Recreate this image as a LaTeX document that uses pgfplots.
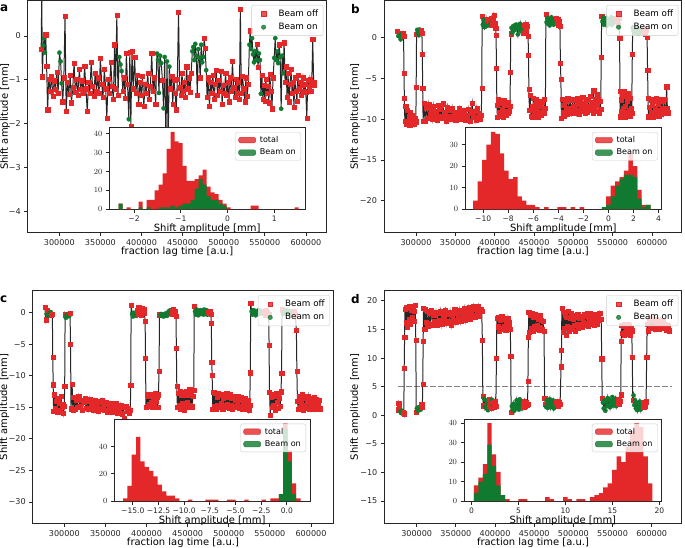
\documentclass[border=0pt]{standalone}
\usepackage{fontspec}
\setmainfont{DejaVu Sans}
\usepackage{pgfplots}
\pgfplotsset{compat=1.18}
\definecolor{mred}{RGB}{228,40,42}
\definecolor{mgreen}{RGB}{16,122,48}
\definecolor{axgray}{RGB}{38,38,38}
\pgfplotsset{
 common/.style={
  scale only axis, anchor=south west,
  axis line style={axgray, line width=0.8bp},
  tick align=outside, tick pos=left,
  major tick length=3.5bp,
  every tick/.style={axgray, line width=0.8bp},
  legend cell align=left,
 },
 mainax/.style={common,
  tick label style={font=\fontsize{8.1}{9.6}\selectfont, text=axgray},
  label style={font=\fontsize{8.8}{10}\selectfont, text=axgray},
  every axis x label/.style={at={(axis description cs:0.5,0)}, anchor=center, yshift=-19bp},
  xtick={300,350,400,450,500,550,600},
  xticklabels={300000,350000,400000,450000,500000,550000,600000},
  xlabel={fraction lag time [a.u.]},
  ylabel={Shift amplitude [mm]},
  legend style={at={(1,1)}, anchor=north east, xshift=-3.4bp, yshift=-4.4bp, draw=black!20, rounded corners=2bp, fill=white, fill opacity=0.8, text opacity=1, font=\fontsize{8.8}{10}\selectfont, inner xsep=3bp, inner ysep=2.5bp, row sep=1.5bp},
  scatter/classes={o={mark=square*, mred, mark size=2.1bp, line width=0.3bp}, g={mark=*, mgreen, mark size=2.2bp, line width=0.2bp}},
 },
 ylab/.style={every axis y label/.style={at={(axis description cs:#1,0.5)}, rotate=90, anchor=center}},
 inax/.style={common,
  axis background/.style={fill=white},
  tick label style={font=\fontsize{7.6}{9}\selectfont, text=axgray},
  label style={font=\fontsize{8.1}{9.6}\selectfont, text=axgray},
  every axis x label/.style={at={(axis description cs:0.5,0)}, anchor=center, yshift=-19.5bp},
  xlabel={Shift amplitude [mm]},
  ymin=0,
  legend style={at={(1,1)}, anchor=north east, xshift=-4bp, yshift=-4.4bp, draw=black!20, rounded corners=2bp, fill=white, fill opacity=0.8, text opacity=1, font=\fontsize{8.1}{9.6}\selectfont, inner xsep=3bp, inner ysep=2bp, row sep=1bp},
 },
 serie/.style={black!85, line width=1bp, scatter, scatter src=explicit symbolic, forget plot},
 offleg/.style={only marks, mark=square*, mred, mark size=2.1bp, legend image code/.code={\pgfpathmoveto{\pgfqpoint{0bp}{0bp}}\pgfpathmoveto{\pgfqpoint{22bp}{0bp}}\pgfusepath{discard}\draw[##1] plot coordinates {(9bp,0bp)};}},
 onleg/.style={only marks, mark=*, mgreen, mark size=2.2bp, legend image code/.code={\pgfpathmoveto{\pgfqpoint{0bp}{0bp}}\pgfpathmoveto{\pgfqpoint{22bp}{0bp}}\pgfusepath{discard}\draw[##1] plot coordinates {(9bp,0bp)};}},
 redpatch/.style={legend image code/.code={\fill[mred] (0bp,-2.8bp) rectangle (17bp,2.8bp); \path (19bp,0bp);}},
 greenpatch/.style={legend image code/.code={\fill[mgreen] (0bp,-2.8bp) rectangle (17bp,2.8bp); \path (19bp,0bp);}},
}
\begin{document}
\begin{tikzpicture}
\path[use as bounding box] (0,0) rectangle (685bp,548bp);
% ---------------- panel a ----------------
\begin{axis}[mainax, ylab=-0.0759, at={(27.7bp,315.3bp)}, width=299bp, height=232.2bp,
  xmin=261.6, xmax=625.2, ymin=-4.49, ymax=0.81,
  ytick={-4,-3,-2,-1,0}, yticklabels={−4,−3,−2,−1,0}]
\addlegendimage{offleg}\addlegendentry{Beam off}
\addlegendimage{onleg}\addlegendentry{Beam on}
\addplot[serie] coordinates {
(278.0,-0.30)[o] (278.7,1.00)[o] (279.4,-0.93)[o] (280.6,-0.22)[g] (281.6,-0.05)[g] (282.5,-0.38)[g] (283.5,0.03)[o] (284.6,-0.68)[o] (285.8,-1.68)[o] (287.3,-0.98)[o]
(289.0,-1.25)[o] (290.6,-0.92)[o] (292.2,-1.38)[o] (293.8,-1.02)[o] (295.4,-1.22)[o] (297.0,-0.82)[o] (298.6,-1.30)[o] (300.2,-0.38)[g] (301.6,-0.58)[g] (302.8,-1.08)[g]
(304.2,-1.50)[o] (305.6,-0.95)[o] (307.0,0.46)[o] (308.4,-1.72)[o] (310.0,-1.05)[o] (311.6,-1.32)[o] (313.2,-0.90)[o] (314.8,-1.52)[o] (316.4,-1.18)[o] (318.0,-0.62)[o]
(319.6,-1.28)[o] (321.2,-0.98)[o] (322.8,-1.35)[o] (324.4,-0.75)[o] (326.0,-1.22)[o] (327.6,-1.02)[o] (329.2,-1.30)[o] (330.8,-0.68)[o] (332.4,-1.20)[o] (334.0,-1.72)[o]
(335.6,-1.05)[o] (337.2,-1.30)[o] (338.8,-0.60)[o] (340.4,-1.15)[o] (342.0,-1.38)[o] (343.6,-0.85)[o] (345.2,-1.25)[o] (346.8,-0.95)[o] (348.4,-1.30)[o] (350.0,-0.50)[o]
(351.6,-1.10)[o] (353.2,-1.40)[o] (354.8,-0.75)[o] (356.4,-1.20)[o] (357.8,-1.88)[o] (359.4,-0.98)[o] (361.0,-1.30)[o] (362.6,-0.60)[o] (364.2,-1.15)[o] (365.8,-1.45)[o]
(367.2,-0.20)[o] (368.4,-1.20)[o] (370.0,0.47)[o] (371.4,-1.35)[o] (373.0,-0.48)[g] (374.4,-0.65)[g] (375.8,-0.80)[g] (377.2,-1.25)[o] (378.8,-0.95)[o] (380.2,-1.42)[o]
(381.6,-0.40)[o] (383.0,-1.10)[o] (384.6,-1.90)[g] (385.8,-0.36)[o] (387.0,-2.06)[o] (388.4,-0.35)[o] (390.0,-1.20)[o] (391.6,-0.48)[o] (393.2,-1.30)[o] (394.8,-0.90)[o]
(396.4,-1.55)[o] (398.0,-1.05)[o] (399.6,-1.35)[o] (401.2,-0.92)[o] (402.8,-1.60)[o] (404.4,-1.10)[o] (406.0,-1.30)[o] (407.6,-0.85)[o] (409.2,-1.45)[o] (410.8,-1.15)[o]
(412.4,-0.40)[o] (414.0,-1.25)[o] (415.6,-0.95)[o] (417.2,-1.55)[o] (418.8,-0.40)[g] (420.0,-0.55)[g] (421.2,-1.30)[g] (422.6,-0.45)[g] (424.0,-0.62)[g] (425.4,-1.00)[o]
(426.8,-1.65)[g] (428.2,-0.48)[g] (429.6,-2.40)[o] (431.0,-0.58)[g] (432.4,-2.40)[o] (433.8,-0.70)[g] (435.2,-1.20)[o] (436.6,-0.92)[o] (438.0,-1.55)[o] (439.4,-1.00)[o]
(440.8,-1.30)[o] (442.2,-1.68)[o] (443.6,-0.98)[o] (445.0,0.55)[o] (446.4,-1.18)[o] (447.8,-1.35)[o] (449.2,-0.85)[o] (450.6,-1.25)[o] (452.0,-1.05)[o] (453.4,-1.40)[o]
(454.8,-0.70)[o] (456.2,-1.20)[o] (457.6,-0.95)[o] (459.0,-1.28)[o] (460.4,-0.85)[o] (461.8,-0.35)[g] (463.0,-0.25)[g] (464.2,-0.55)[g] (465.4,-0.18)[g] (466.6,-0.45)[g]
(467.8,-1.35)[o] (469.0,-0.30)[g] (470.2,-0.50)[g] (471.4,-0.95)[o] (472.6,-0.20)[g] (473.8,-0.60)[g] (475.0,-0.48)[g] (476.2,-0.05)[o] (477.4,-0.28)[o] (478.6,-0.78)[g]
(479.8,-1.40)[o] (481.2,-0.95)[o] (482.6,-1.60)[o] (484.0,-1.05)[o] (485.4,-1.30)[o] (486.8,-0.90)[o] (488.2,-1.45)[o] (489.6,-1.10)[o] (491.0,-0.78)[o] (492.4,-1.35)[o]
(493.8,-1.00)[o] (495.2,-1.25)[o] (496.6,-0.80)[o] (498.0,-1.55)[o] (499.4,-1.12)[o] (500.8,-1.30)[o] (502.2,-0.85)[o] (503.6,-1.35)[o] (505.0,-1.05)[o] (506.4,-1.50)[o]
(507.8,-0.95)[o] (509.2,-1.25)[o] (510.6,-0.58)[o] (512.0,-1.18)[o] (513.4,-1.40)[o] (514.8,-0.98)[o] (516.2,-1.30)[o] (517.6,-1.05)[o] (519.0,-1.45)[o] (520.2,0.62)[o]
(521.4,-1.30)[o] (522.8,-0.92)[o] (524.2,-1.20)[o] (525.6,-1.50)[o] (527.0,-0.95)[o] (528.4,-1.38)[o] (529.8,-1.10)[o] (531.2,-0.20)[g] (532.2,0.12)[o] (533.2,-0.30)[g]
(534.4,-0.05)[g] (535.6,-0.42)[g] (536.8,-0.60)[g] (538.0,-0.35)[g] (539.2,-0.55)[g] (540.4,-0.18)[o] (541.6,-0.72)[o] (542.8,-0.40)[g] (544.0,-0.55)[g] (545.2,-1.32)[g]
(546.4,-0.90)[o] (547.6,-1.45)[o] (548.8,-1.12)[o] (550.0,-1.48)[o] (551.2,-0.98)[o] (552.4,-1.30)[o] (553.6,-1.15)[o] (554.8,-1.52)[o] (556.0,-0.88)[o] (557.2,-1.25)[o]
(558.6,-1.66)[o] (560.0,-0.95)[o] (561.4,-0.50)[g] (562.6,-0.05)[g] (563.8,-0.55)[g] (565.0,-0.35)[g] (566.2,-0.62)[g] (567.4,-0.20)[o] (568.6,-0.48)[g] (569.8,-1.66)[g]
(571.0,-0.45)[g] (572.2,-0.85)[g] (573.4,-0.15)[o] (574.6,-1.05)[o] (575.8,-0.70)[o] (577.0,-1.40)[o] (578.2,-0.85)[o] (579.4,-1.50)[o] (580.6,-1.10)[o] (581.8,-0.75)[o]
(583.0,-1.30)[o] (584.2,-1.05)[o] (585.4,-1.62)[o] (586.6,-0.95)[o] (587.8,-1.25)[o] (589.0,-1.48)[o] (590.2,-0.90)[o] (591.4,-1.20)[o] (592.6,-1.05)[o] (593.8,-1.35)[o]
(595.0,-1.12)[o] (596.2,-0.95)[o] (597.4,-1.25)[o] (598.6,-1.10)[o] (599.8,-1.28)[o] (601.0,-1.88)[o] (602.2,-1.00)[o] (603.4,-1.15)[o] (604.6,-0.98)[o] (605.8,-1.25)[o]
(607.0,-1.10)[o] (608.2,-0.07)[o] (609.4,-1.12)[o] (610.4,-1.05)[o]
};
\end{axis}
\begin{axis}[inax, at={(109.3bp,338.7bp)}, width=195.7bp, height=81.6bp,
  xmin=-2.53, xmax=1.66, ymax=43.2,
  xtick={-2,-1,0,1}, xticklabels={−2,−1,0,1}, ytick={0,10,20,30,40}]
\addlegendimage{redpatch}\addlegendentry{total}
\addlegendimage{greenpatch}\addlegendentry{Beam on}
\addplot[const plot, fill=mred, draw=none, forget plot] coordinates {
(-2.330,3) (-2.244,0) (-2.159,1) (-2.073,0) (-1.988,0) (-1.902,4) (-1.816,0) (-1.731,5) (-1.645,5) (-1.560,10)
(-1.474,13) (-1.388,19) (-1.303,32) (-1.217,41) (-1.132,36) (-1.046,35) (-0.960,23) (-0.875,15) (-0.789,15) (-0.704,16)
(-0.618,18) (-0.532,21) (-0.447,12) (-0.361,9) (-0.276,8) (-0.190,5) (-0.104,3) (-0.019,1) (0.067,0) (0.152,0)
(0.238,0) (0.324,0) (0.409,0) (0.495,2) (0.580,2) (0.666,0) (0.752,0) (0.837,0) (0.923,0) (1.008,0)
(1.094,0) (1.180,0) (1.265,0) (1.351,0) (1.436,1) (1.522,0)} \closedcycle;
\addplot[const plot, fill=mgreen, draw=none, forget plot] coordinates {
(-2.330,3) (-2.244,0) (-2.159,0) (-2.073,0) (-1.988,0) (-1.902,1) (-1.816,0) (-1.731,1) (-1.645,0) (-1.560,0)
(-1.474,1) (-1.388,1) (-1.303,1) (-1.217,2) (-1.132,1) (-1.046,2) (-0.960,3) (-0.875,3) (-0.789,5) (-0.704,11)
(-0.618,16) (-0.532,13) (-0.447,7) (-0.361,5) (-0.276,5) (-0.190,3) (-0.104,2) (-0.019,0)} \closedcycle;
\end{axis}
% ---------------- panel b ----------------
\begin{axis}[mainax, ylab=-0.0974, at={(384bp,315.3bp)}, width=297.7bp, height=232.2bp,
  xmin=259.3, xmax=637.8, ymin=-23.93, ymax=4.56,
  ytick={-20,-15,-10,-5,0}, yticklabels={−20,−15,−10,−5,0}]
\addlegendimage{offleg}\addlegendentry{Beam off}
\addlegendimage{onleg}\addlegendentry{Beam on}
\addplot[serie] coordinates {
(276.5,0.80)[o] (277.5,0.20)[g] (278.5,0.55)[o] (279.5,0.30)[g] (280.5,-0.20)[g] (281.5,0.40)[g] (282.5,0.10)[g] (283.5,0.60)[o] (284.2,0.20)[o] (284.7,-4.40)[o] (285.2,-7.40)[o] (285.8,-10.20)[o]
(286.8,-8.40)[o] (287.8,-10.60)[o] (288.8,-8.90)[o] (289.8,-10.30)[o] (290.8,-9.60)[o] (291.8,-10.70)[o] (292.8,-9.20)[o] (293.8,-10.10)[o] (294.8,-9.50)[o] (295.8,-10.40)[o] (296.8,-9.80)[o] (297.8,-10.60)[o] (298.8,-9.90)[o] (299.8,-10.30)[o]
(300.2,-6.10)[o] (300.7,0.40)[o] (301.5,0.95)[g] (302.5,0.60)[g] (303.5,0.30)[g] (304.5,1.00)[g] (305.5,0.70)[g] (306.5,0.90)[o] (307.5,0.60)[o] (308.0,-2.00)[o] (308.5,-6.20)[o] (309.0,-10.20)[o]
(310.0,-8.00)[o] (311.5,-10.20)[o] (313.0,-8.60)[o] (314.5,-9.90)[o] (316.0,-8.20)[o] (317.5,-9.40)[o] (319.0,-8.80)[o] (320.5,-10.00)[o] (322.0,-8.40)[o] (323.5,-9.60)[o]
(325.0,-9.00)[o] (326.5,-10.10)[o] (328.0,-8.30)[o] (329.5,-9.70)[o] (331.0,-8.70)[o] (332.5,-9.90)[o] (334.0,-8.10)[o] (335.5,-9.50)[o] (337.0,-9.20)[o] (338.5,-10.20)[o]
(340.0,-8.50)[o] (341.5,-9.60)[o] (343.0,-8.90)[o] (344.5,-10.00)[o] (346.0,-8.60)[o] (347.5,-9.80)[o] (349.0,-9.10)[o] (350.5,-10.10)[o] (352.0,-9.30)[o] (353.5,-9.70)[o]
(355.0,-8.70)[o] (356.5,-10.00)[o] (358.0,-9.40)[o] (359.5,-9.80)[o] (361.0,-8.90)[o] (362.5,-10.10)[o] (364.0,-9.50)[o] (365.5,-9.90)[o] (367.0,-8.80)[o] (368.5,-10.20)[o]
(370.0,-9.20)[o] (371.5,-8.00)[o] (373.0,-9.70)[o] (374.5,-9.00)[o] (376.0,-10.10)[o] (377.5,-8.60)[o] (379.0,-9.80)[o] (380.5,-9.30)[o] (382.0,-10.00)[o] (383.0,-9.50)[o]
(383.6,-6.20)[o] (384.1,2.60)[o] (385.0,1.60)[g] (386.0,2.20)[g] (387.0,1.30)[g] (388.0,1.90)[g] (389.0,1.40)[g] (390.0,2.30)[o] (391.0,1.70)[g] (392.0,2.00)[o] (393.0,1.50)[g]
(394.0,2.10)[o] (395.0,1.80)[g] (396.0,2.40)[o] (397.0,1.60)[o] (398.0,2.10)[o] (399.0,2.80)[o] (400.2,1.80)[o] (401.2,1.20)[o] (401.8,0.30)[o] (402.3,-3.70)[o] (402.8,-8.30)[o]
(403.5,-9.80)[o] (404.5,-7.60)[o] (405.5,-9.20)[o] (406.5,-8.00)[o] (407.5,-9.60)[o] (408.5,-7.80)[o] (409.5,-8.80)[o] (410.5,-9.70)[o] (411.5,-7.70)[o] (412.5,-9.00)[o]
(413.5,-8.30)[o] (414.5,-9.50)[o] (415.5,-8.10)[o] (416.5,-9.30)[o] (417.5,-7.90)[o] (418.5,-9.00)[o] (419.5,-8.40)[o]
(420.0,-4.20)[o] (420.5,0.50)[o] (421.5,1.20)[g] (422.5,0.60)[g] (423.5,1.40)[g] (424.5,0.90)[g] (425.5,1.50)[g] (426.5,1.00)[g] (427.5,1.60)[g] (428.5,1.20)[g] (429.5,0.40)[g]
(430.5,1.50)[g] (431.5,1.00)[g] (432.5,1.70)[g] (433.5,0.80)[g] (434.5,1.40)[g] (435.5,1.10)[g] (436.5,0.60)[o] (437.5,1.50)[o] (438.5,1.00)[o] (439.5,1.70)[o] (440.5,0.80)[o]
(441.5,1.40)[o] (442.5,0.20)[o] (443.0,-2.10)[o] (443.5,-6.30)[o]
(444.2,-8.90)[o] (445.2,-7.10)[o] (446.2,-9.60)[o] (447.2,-8.40)[o] (448.2,-9.80)[o] (449.2,-7.40)[o] (450.2,-9.00)[o] (451.2,-8.20)[o] (452.2,-9.40)[o] (453.2,-7.60)[o]
(454.2,-8.80)[o] (455.2,-9.70)[o] (456.2,-7.80)[o] (457.2,-9.10)[o] (458.2,-8.40)[o] (459.2,-9.50)[o] (460.2,-7.90)[o] (461.2,-8.70)[o] (462.2,-9.20)[o] (463.2,-7.50)[o] (464.5,-8.60)[o]
(465.1,2.90)[o] (466.0,1.90)[g] (467.0,2.40)[g] (468.0,1.70)[g] (469.0,2.20)[g] (470.0,1.50)[g] (471.0,2.00)[g] (472.0,2.50)[g] (473.0,1.80)[g] (474.0,2.30)[g] (475.0,1.60)[g]
(476.0,2.10)[g] (477.0,1.90)[g] (478.0,2.40)[o] (479.0,1.80)[o] (480.0,2.20)[o] (481.0,1.60)[o] (482.0,2.00)[o] (483.0,1.40)[o] (483.6,-3.10)[o] (484.2,-5.10)[o] (484.8,-9.90)[o]
(485.8,-7.50)[o] (486.8,-9.20)[o] (487.8,-8.30)[o] (488.8,-9.60)[o] (489.8,-7.80)[o] (490.8,-8.90)[o] (491.8,-9.40)[o] (492.8,-7.40)[o] (493.8,-8.60)[o] (494.8,-9.10)[o]
(495.8,-7.60)[o] (496.8,-8.80)[o] (497.8,-9.30)[o] (498.8,-7.50)[o] (499.8,-8.40)[o] (500.8,-9.00)[o] (501.8,-7.70)[o] (502.8,-8.60)[o] (503.8,-9.20)[o] (504.8,-7.40)[o]
(505.8,-8.90)[o] (506.8,-8.10)[o] (507.8,-9.40)[o] (508.8,-7.60)[o] (509.8,-8.50)[o] (510.8,-9.00)[o] (511.8,-7.30)[o] (512.8,-8.80)[o] (513.8,-8.00)[o] (514.8,-9.30)[o]
(515.8,-7.70)[o] (516.8,-8.60)[o] (517.8,-9.10)[o] (518.8,-7.50)[o] (519.8,-8.40)[o] (520.8,-8.90)[o] (521.8,-7.20)[o] (522.8,-8.70)[o] (523.8,-7.90)[o] (524.8,-9.20)[o]
(525.8,-6.50)[o] (526.8,-8.50)[o] (527.8,-7.60)[o] (528.8,-9.00)[o] (529.8,-7.00)[o] (530.8,-8.30)[o] (531.8,-7.60)[o] (532.8,-9.30)[o] (533.8,-7.80)[o] (534.8,-8.80)[o]
(535.5,-2.40)[o] (536.0,2.60)[o] (537.0,2.00)[g] (538.0,2.50)[g] (539.0,1.60)[g] (540.0,2.20)[g] (541.0,1.80)[g] (542.0,2.40)[g] (543.0,1.50)[g] (544.0,2.10)[g] (545.0,1.70)[g]
(546.0,2.30)[g] (547.0,1.90)[g] (548.0,2.50)[g] (549.0,1.60)[g] (550.0,2.20)[g] (551.0,1.80)[g] (552.0,2.40)[g] (553.0,2.00)[g] (554.0,2.30)[o] (555.0,1.90)[g] (556.0,2.10)[o]
(557.0,1.60)[o] (558.0,2.40)[o] (558.8,0.00)[o] (559.3,-6.60)[o] (559.8,-9.70)[o]
(560.6,-7.60)[o] (561.4,-9.00)[o] (562.2,-7.00)[o] (563.0,-8.70)[o] (563.8,-9.50)[o] (564.6,-6.60)[o] (565.4,-8.40)[o] (566.2,-9.70)[o] (567.0,-7.20)[o] (567.8,-9.10)[o]
(568.6,-7.80)[o] (569.4,-9.40)[o] (570.2,-6.80)[o] (571.0,-8.90)[o] (571.8,-9.60)[o] (572.6,-7.40)[o] (573.4,-8.60)[o] (574.2,-9.30)[o]
(575.0,-2.00)[o] (575.5,1.20)[g] (576.5,0.80)[g] (577.5,1.30)[g] (578.5,0.60)[g] (579.5,1.00)[g] (580.5,0.70)[g] (581.5,1.20)[g] (582.5,0.50)[g] (583.5,0.90)[g] (584.5,0.60)[g]
(585.5,1.10)[g] (586.5,0.80)[g] (587.5,0.60)[g] (588.5,1.00)[g] (589.5,0.70)[o] (590.5,1.20)[o] (591.5,0.50)[o] (592.5,0.90)[o] (593.8,0.10)[o] (594.4,-4.00)[o] (595.0,-7.40)[o] (595.6,-9.70)[o]
(596.6,-8.50)[o] (597.6,-9.60)[o] (598.6,-7.60)[o] (599.6,-9.20)[o] (600.6,-8.30)[o] (601.6,-9.70)[o] (602.6,-7.80)[o] (603.6,-8.80)[o] (604.6,-9.50)[o] (605.6,-7.40)[o]
(606.6,-9.00)[o] (607.6,-8.20)[o] (608.6,-9.60)[o] (609.6,-7.60)[o] (610.6,-8.90)[o] (611.6,-9.40)[o] (612.6,-7.80)[o] (613.6,-8.70)[o] (614.6,-9.30)[o] (615.6,-7.50)[o]
(616.6,-8.80)[o] (617.6,-9.10)[o] (618.6,-6.00)[o] (619.6,-8.70)[o] (620.6,-9.20)[o]
};
\end{axis}
\begin{axis}[inax, at={(465bp,338.7bp)}, width=196.7bp, height=81.6bp,
  xmin=-11.45, xmax=4.25, ymax=37.9,
  xtick={-10,-8,-6,-4,-2,0,2,4}, xticklabels={−10,−8,−6,−4,−2,0,2,4}, ytick={0,10,20,30}]
\addlegendimage{redpatch}\addlegendentry{total}
\addlegendimage{greenpatch}\addlegendentry{Beam on}
\addplot[const plot, fill=mred, draw=none, forget plot] coordinates {
(-10.800,4) (-10.446,13) (-10.092,23) (-9.738,30) (-9.384,36) (-9.030,35) (-8.676,26) (-8.322,18) (-7.968,14) (-7.614,15)
(-7.260,6) (-6.906,4) (-6.552,2) (-6.198,2) (-5.844,1) (-5.490,0) (-5.136,1) (-4.782,0) (-4.428,0) (-4.074,1)
(-3.720,1) (-3.366,0) (-3.012,1) (-2.658,0) (-2.304,1) (-1.950,0) (-1.596,0) (-1.242,0) (-0.888,0) (-0.534,1)
(-0.180,6) (0.174,11) (0.528,13) (0.882,15) (1.236,18) (1.590,26) (1.944,20) (2.298,9) (2.652,2) (3.006,2) (3.360,0)} \closedcycle;
\addplot[const plot, fill=mgreen, draw=none, forget plot] coordinates {
(-0.534,1) (-0.180,2) (0.174,6) (0.528,11) (0.882,14) (1.236,16) (1.590,16) (1.944,15) (2.298,5) (2.652,1) (3.006,2) (3.360,0)} \closedcycle;
\end{axis}
% ---------------- panel c ----------------
\begin{axis}[mainax, ylab=-0.094, at={(32.7bp,24.7bp)}, width=300.6bp, height=232.6bp,
  xmin=261.6, xmax=627.1, ymin=-33.38, ymax=3.49,
  ytick={-30,-25,-20,-15,-10,-5,0}, yticklabels={−30,−25,−20,−15,−10,−5,0}]
\addlegendimage{offleg}\addlegendentry{Beam off}
\addlegendimage{onleg}\addlegendentry{Beam on}
\addplot[serie] coordinates {
(276.5,0.90)[o] (277.5,-1.10)[o] (278.5,-0.20)[g] (279.5,0.40)[o] (280.5,-0.50)[g] (281.5,-0.10)[g] (282.5,-0.30)[g] (283.5,0.10)[g] (284.5,-0.40)[o] (285.5,-0.20)[o]
(286.0,-7.00)[o] (286.5,-11.40)[o] (287.0,-15.60)[o] (288.0,-13.00)[o] (289.0,-15.20)[o] (290.0,-14.00)[o] (291.0,-15.80)[o] (292.0,-13.50)[o] (293.0,-15.40)[o] (294.0,-14.30)[o]
(295.0,-15.70)[o] (296.0,-13.20)[o] (297.0,-15.00)[o] (298.0,-14.50)[o] (299.0,-15.90)[o] (300.0,-14.80)[o] (300.5,-11.70)[o] (301.0,-0.30)[o] (302.0,-0.80)[g] (303.0,-0.40)[g]
(304.0,-0.60)[g] (305.0,-0.20)[g] (306.0,-0.50)[g] (307.0,-0.10)[o] (307.6,-5.00)[o] (308.2,-15.20)[o] (309.5,-11.30)[o] (310.5,-15.50)[o] (311.5,-13.40)[o] (313.0,-15.30)[o]
(314.5,-13.80)[o] (316.0,-15.00)[o] (317.5,-13.30)[o] (319.0,-14.80)[o] (320.5,-13.90)[o] (322.0,-15.40)[o] (323.5,-14.20)[o] (325.0,-13.60)[o] (326.5,-15.10)[o] (328.0,-14.00)[o]
(329.5,-15.30)[o] (331.0,-13.70)[o] (332.5,-14.90)[o] (334.0,-14.30)[o] (335.5,-15.50)[o] (337.0,-13.90)[o] (338.5,-15.00)[o] (340.0,-14.40)[o] (341.5,-15.60)[o] (343.0,-14.10)[o]
(344.5,-15.20)[o] (346.0,-13.80)[o] (347.5,-14.70)[o] (349.0,-15.40)[o] (350.5,-14.20)[o] (352.0,-15.70)[o] (353.5,-14.50)[o] (355.0,-15.10)[o] (356.5,-14.30)[o] (358.0,-15.80)[o]
(359.5,-14.60)[o] (361.0,-15.20)[o] (362.5,-14.40)[o] (364.0,-15.90)[o] (365.5,-14.80)[o] (367.0,-15.40)[o] (368.5,-14.60)[o] (370.0,-16.00)[o] (371.5,-15.00)[o] (373.0,-16.80)[o]
(374.5,-14.90)[o] (376.0,-15.60)[o] (377.5,-15.10)[o] (379.0,-15.90)[o] (380.3,-15.40)[o] (380.8,-11.50)[o] (381.3,1.20)[o] (382.5,-0.20)[g] (383.5,-0.60)[g] (384.5,0.00)[g]
(385.5,-0.40)[g] (386.5,-0.10)[g] (387.5,-0.50)[g] (388.5,0.40)[o] (389.5,-0.20)[o] (390.5,0.80)[o] (391.5,0.20)[o] (392.5,0.60)[o] (393.5,-0.30)[o] (394.5,0.70)[o]
(395.5,0.10)[o] (396.5,0.50)[o] (397.5,-0.10)[o] (398.3,-1.40)[o] (398.8,-7.20)[o] (399.3,-15.00)[o] (400.5,-13.00)[o] (401.5,-14.80)[o] (402.5,-13.20)[o] (403.5,-14.50)[o]
(404.5,-12.90)[o] (405.5,-14.20)[o] (406.5,-13.10)[o] (407.5,-15.00)[o] (408.5,-13.30)[o] (409.5,-14.60)[o] (410.5,-12.80)[o] (411.5,-14.00)[o] (412.5,-13.40)[o] (413.5,-15.00)[o]
(414.5,-13.00)[o] (415.2,-9.30)[o] (415.8,-0.30)[o] (416.8,-0.40)[g] (417.8,-0.20)[g] (418.8,-0.50)[g] (419.8,-0.30)[g] (420.8,-0.60)[g] (421.8,-0.20)[g] (422.8,-0.40)[g]
(423.8,-0.10)[g] (424.8,-0.50)[g] (425.8,-0.30)[g] (426.8,0.20)[g] (427.8,-0.20)[g] (428.8,0.40)[g] (429.8,0.00)[g] (430.8,0.30)[o] (431.8,-0.20)[o] (432.8,0.50)[o]
(433.8,-0.10)[o] (434.8,0.20)[o] (435.8,-0.50)[o] (436.3,-5.60)[o] (436.8,-11.60)[o] (437.5,-15.00)[o] (438.5,-12.80)[o] (439.5,-14.70)[o] (440.5,-12.40)[o] (441.5,-15.20)[o]
(442.5,-13.00)[o] (443.5,-14.40)[o] (444.5,-12.60)[o] (445.5,-15.50)[o] (446.5,-13.10)[o] (447.5,-14.80)[o] (448.5,-12.50)[o] (449.5,-14.20)[o] (450.5,-13.00)[o] (451.5,-15.00)[o]
(452.5,-12.20)[o] (453.5,-14.60)[o] (454.5,-12.40)[o] (455.5,-14.90)[o] (456.5,-13.20)[o] (457.5,-12.30)[o] (458.0,1.00)[o] (459.0,0.20)[g] (460.0,-0.30)[g] (461.0,0.50)[g]
(462.0,0.00)[g] (463.0,-0.40)[g] (464.0,0.30)[g] (465.0,-0.20)[g] (466.0,0.40)[g] (467.0,-0.10)[g] (468.0,0.20)[g] (469.0,-0.30)[g] (470.0,0.50)[g] (471.0,0.00)[g]
(472.0,-0.20)[g] (473.0,0.40)[g] (474.0,-0.30)[g] (475.0,0.10)[o] (476.0,-0.10)[o] (477.0,0.30)[o] (478.2,-0.20)[o] (478.8,-1.70)[o] (479.3,-7.80)[o] (479.8,-9.90)[o]
(480.5,-15.30)[o] (481.5,-12.60)[o] (482.5,-14.80)[o] (483.5,-12.80)[o] (484.5,-15.20)[o] (485.5,-13.40)[o] (486.5,-14.60)[o] (487.5,-12.70)[o] (488.5,-15.00)[o] (489.5,-13.10)[o]
(490.5,-14.40)[o] (491.5,-12.90)[o] (492.5,-15.30)[o] (493.5,-13.50)[o] (494.5,-14.70)[o] (495.5,-13.00)[o] (496.5,-14.90)[o] (497.5,-12.80)[o] (498.5,-14.50)[o] (499.5,-13.40)[o]
(500.5,-15.10)[o] (501.5,-13.00)[o] (502.5,-14.60)[o] (503.5,-13.60)[o] (504.5,-15.20)[o] (505.5,-13.30)[o] (506.5,-14.80)[o] (507.5,-13.80)[o] (508.5,-15.00)[o] (509.5,-13.50)[o]
(510.5,-14.70)[o] (511.5,-13.20)[o] (512.5,-15.10)[o] (513.5,-13.90)[o] (514.5,-14.80)[o] (515.5,-13.40)[o] (516.5,-15.20)[o] (517.5,-14.00)[o] (518.5,-14.90)[o] (519.5,-13.60)[o]
(520.5,-15.30)[o] (521.5,-14.20)[o] (522.5,-15.00)[o] (523.5,-13.80)[o] (524.5,-15.40)[o] (525.5,-14.60)[o] (526.2,-9.50)[o] (526.7,1.50)[o] (527.8,0.20)[g] (528.8,-0.30)[g]
(529.8,0.40)[g] (530.8,-0.10)[g] (531.8,0.30)[g] (532.8,-0.40)[g] (533.8,0.20)[g] (535.0,0.00)[g] (536.5,0.40)[g] (538.0,-0.20)[g] (539.5,0.30)[g] (541.0,-0.10)[g]
(542.5,0.20)[o] (544.0,-0.30)[o] (545.5,0.40)[o] (547.0,0.00)[o] (548.5,-0.20)[o] (549.0,-5.10)[o] (549.5,-12.60)[o] (550.5,-16.20)[o] (551.5,-13.40)[o] (552.5,-15.00)[o]
(553.5,-12.90)[o] (554.5,-14.60)[o] (555.5,-13.20)[o] (556.5,-15.40)[o] (557.5,-12.80)[o] (558.5,-14.20)[o] (559.5,-13.00)[o] (560.5,-15.10)[o] (561.5,-13.60)[o] (562.5,-14.80)[o]
(563.5,-12.50)[o] (564.2,-9.60)[o] (564.8,0.50)[o] (566.0,-0.20)[g] (567.5,0.30)[g] (569.0,-0.10)[g] (570.5,0.40)[g] (572.0,0.00)[g] (573.5,0.30)[g] (575.0,-0.20)[g]
(576.5,0.20)[g] (578.0,-0.10)[o] (579.5,0.30)[o] (581.0,-0.30)[o] (582.2,-2.70)[o] (582.8,-9.20)[o] (583.5,-14.00)[o] (584.5,-15.30)[o] (585.5,-13.20)[o] (586.5,-15.00)[o]
(587.5,-13.80)[o] (588.5,-14.60)[o] (589.5,-13.00)[o] (590.5,-15.40)[o] (591.5,-13.50)[o] (592.5,-14.80)[o] (593.5,-13.30)[o] (594.5,-15.10)[o] (595.5,-14.00)[o] (596.5,-13.20)[o]
(597.5,-15.20)[o] (598.5,-14.10)[o] (599.5,-13.60)[o] (600.5,-15.00)[o] (601.5,-13.90)[o] (602.5,-14.70)[o] (603.5,-13.40)[o] (604.5,-15.30)[o] (605.5,-14.20)[o] (606.5,-13.70)[o]
(607.5,-15.00)[o] (608.5,-14.40)[o] (609.5,-13.80)[o] (610.5,-15.20)[o]
};
\end{axis}
\begin{axis}[inax, at={(114.3bp,47bp)}, width=195.7bp, height=81.7bp,
  xmin=-16.8, xmax=2.25, ymax=59.9,
  xtick={-15,-12.5,-10,-7.5,-5,-2.5,0}, xticklabels={−15.0,−12.5,−10.0,−7.5,−5.0,−2.5,0.0}, ytick={0,20,40}]
\addlegendimage{redpatch}\addlegendentry{total}
\addlegendimage{greenpatch}\addlegendentry{Beam on}
\addplot[const plot, fill=mred, draw=none, forget plot] coordinates {
(-15.950,2) (-15.529,11) (-15.107,34) (-14.686,47) (-14.264,29) (-13.843,25) (-13.421,22) (-13.000,18) (-12.578,12) (-12.157,7)
(-11.735,4) (-11.314,4) (-10.892,2) (-10.471,0) (-10.049,0) (-9.628,1) (-9.206,0) (-8.785,0) (-8.363,0) (-7.942,1)
(-7.520,1) (-7.099,1) (-6.677,0) (-6.256,0) (-5.834,1) (-5.413,1) (-4.991,0) (-4.570,0) (-4.148,1) (-3.727,0)
(-3.305,0) (-2.884,0) (-2.462,1) (-2.041,0) (-1.619,2) (-1.198,2) (-0.776,5) (-0.355,57) (0.067,37) (0.488,13) (0.910,2) (1.331,0)} \closedcycle;
\addplot[const plot, fill=mgreen, draw=none, forget plot] coordinates {
(-0.776,5) (-0.355,53) (0.067,29) (0.488,5) (0.910,0)} \closedcycle;
\end{axis}
% ---------------- panel d ----------------
\begin{axis}[mainax, ylab=-0.0985, at={(384.3bp,24.7bp)}, width=297.4bp, height=232.6bp,
  xmin=258.6, xmax=638.3, ymin=-18.88, ymax=21.78,
  ytick={-15,-10,-5,0,5,10,15,20}, yticklabels={−15,−10,−5,0,5,10,15,20}]
\addlegendimage{offleg}\addlegendentry{Beam off}
\addlegendimage{onleg}\addlegendentry{Beam on}
\addplot[gray, dashed, dash pattern=on 5.5bp off 2.5bp, line width=1.1bp, forget plot] coordinates {(276.5,5) (625.5,5)};
\addplot[serie] coordinates {
(276.0,1.00)[o] (277.0,2.10)[o] (278.0,1.20)[o] (279.0,0.70)[g] (280.0,0.40)[g] (281.0,0.80)[g] (282.0,0.30)[g] (283.0,0.60)[o] (283.5,0.30)[o] (284.0,8.20)[o]
(284.5,13.60)[o] (285.0,18.60)[o] (286.0,16.20)[o] (287.0,18.80)[o] (288.0,15.40)[o] (289.0,18.90)[o] (290.0,16.80)[o] (291.0,19.00)[o] (292.0,16.00)[o] (293.0,18.40)[o]
(294.0,17.20)[o] (295.0,19.10)[o] (296.0,16.50)[o] (297.0,18.20)[o] (298.2,19.20)[o] (298.8,13.20)[o] (299.4,0.60)[o] (300.2,1.20)[g] (301.2,0.80)[g] (302.2,1.40)[g]
(303.2,0.90)[g] (304.2,1.30)[g] (305.2,1.00)[g] (306.2,1.90)[o] (307.2,1.50)[o] (307.7,5.40)[o] (308.2,12.90)[o] (308.7,18.70)[o] (310.0,15.00)[o] (311.0,18.60)[o]
(312.0,16.30)[o] (313.0,18.20)[o] (314.0,15.60)[o] (315.5,17.80)[o] (317.0,16.00)[o] (318.5,18.40)[o] (320.0,15.80)[o] (321.5,17.60)[o] (323.0,16.40)[o] (324.5,18.00)[o]
(326.0,15.70)[o] (327.5,17.90)[o] (329.0,16.60)[o] (330.5,18.20)[o] (332.0,15.90)[o] (333.5,17.50)[o] (335.0,16.80)[o] (336.5,18.30)[o] (338.0,16.10)[o] (339.5,17.70)[o]
(341.0,16.50)[o] (342.5,18.10)[o] (344.0,15.80)[o] (345.5,17.60)[o] (347.0,16.70)[o] (348.5,18.60)[o] (350.0,16.30)[o] (351.5,17.90)[o] (353.0,16.90)[o] (354.5,18.40)[o]
(356.0,16.40)[o] (357.5,18.00)[o] (359.0,17.10)[o] (360.5,18.70)[o] (362.0,16.60)[o] (363.5,18.10)[o] (365.0,17.30)[o] (366.5,18.80)[o] (368.0,16.90)[o] (369.5,18.30)[o]
(371.0,17.50)[o] (372.5,19.00)[o] (374.0,17.20)[o] (375.5,18.50)[o] (377.0,17.80)[o] (378.5,19.10)[o] (380.0,17.40)[o] (381.5,18.60)[o] (383.0,18.20)[o] (383.8,13.10)[o]
(384.4,3.30)[o] (385.0,1.70)[o] (386.0,2.90)[g] (387.0,1.50)[g] (388.0,2.60)[g] (389.0,1.20)[g] (390.0,2.20)[g] (391.0,0.90)[g] (392.0,2.80)[o] (393.0,1.60)[o]
(394.0,2.40)[o] (395.0,1.30)[o] (396.0,2.70)[g] (397.0,1.80)[g] (398.0,2.30)[o] (399.0,1.40)[o] (400.0,2.50)[o] (401.0,1.60)[o] (401.8,10.00)[o] (402.3,17.00)[o]
(403.5,15.50)[o] (404.5,17.20)[o] (405.5,14.80)[o] (406.5,16.60)[o] (407.5,15.20)[o] (408.5,17.40)[o] (409.5,15.00)[o] (410.5,16.80)[o] (411.5,15.60)[o] (412.5,17.00)[o]
(413.5,14.90)[o] (414.5,16.40)[o] (415.5,15.40)[o] (416.5,16.90)[o] (417.5,15.80)[o] (418.5,16.30)[o] (419.5,15.10)[o] (420.0,10.30)[o] (420.5,0.50)[o] (421.5,1.60)[g]
(422.5,1.00)[g] (423.5,2.00)[g] (424.5,0.80)[g] (425.5,1.80)[g] (426.5,1.20)[g] (427.5,2.60)[g] (428.5,1.40)[g] (429.5,2.20)[g] (430.5,1.00)[g] (431.5,2.80)[g]
(432.5,1.50)[g] (433.5,2.30)[g] (434.5,1.20)[g] (435.5,2.00)[o] (436.5,1.40)[o] (437.5,2.50)[o] (438.5,1.60)[o] (439.5,2.20)[o] (440.5,1.80)[o] (441.5,2.00)[o]
(442.0,6.00)[o] (442.5,13.70)[o] (443.0,18.00)[o] (444.0,14.50)[o] (445.0,17.60)[o] (446.0,15.20)[o] (447.0,17.90)[o] (448.0,14.80)[o] (449.0,17.20)[o] (450.0,15.60)[o]
(451.0,17.70)[o] (452.0,15.00)[o] (453.0,17.40)[o] (454.0,15.80)[o] (455.0,16.90)[o] (456.0,14.90)[o] (457.0,17.50)[o] (458.0,15.40)[o] (459.0,16.60)[o] (460.0,15.00)[o]
(461.0,16.40)[o] (462.5,14.70)[o] (463.3,3.00)[o] (464.2,2.00)[o] (465.0,1.50)[g] (466.0,2.60)[g] (467.0,1.30)[g] (468.0,2.20)[g] (469.0,1.60)[g] (470.0,2.80)[g]
(471.0,1.40)[g] (472.0,2.40)[g] (473.0,1.80)[g] (474.0,2.60)[g] (475.0,1.20)[g] (476.0,2.10)[g] (477.0,1.70)[g] (478.0,2.30)[o] (479.0,1.90)[o] (480.0,2.50)[o]
(481.0,1.60)[o] (482.0,2.20)[o] (483.0,2.00)[o] (484.3,8.50)[o] (484.8,11.40)[o] (485.3,18.70)[o] (486.5,14.60)[o] (487.5,18.00)[o] (488.5,15.20)[o] (489.5,17.60)[o]
(490.5,14.00)[o] (491.5,17.20)[o] (492.5,15.60)[o] (493.5,18.20)[o] (494.5,14.80)[o] (495.5,17.00)[o] (496.5,15.40)[o] (497.5,17.80)[o] (498.5,15.00)[o] (499.5,16.80)[o]
(500.5,15.80)[o] (501.5,17.50)[o] (502.5,14.70)[o] (503.5,17.10)[o] (504.5,15.90)[o] (505.5,17.60)[o] (506.5,15.30)[o] (507.5,17.00)[o] (508.5,16.00)[o] (509.5,17.40)[o]
(510.5,15.50)[o] (511.5,17.20)[o] (512.5,16.20)[o] (513.5,17.70)[o] (514.5,15.70)[o] (515.5,17.30)[o] (516.5,16.10)[o] (517.5,17.80)[o] (518.5,15.60)[o] (519.5,17.10)[o]
(520.5,16.40)[o] (521.5,17.90)[o] (522.5,15.90)[o] (523.5,17.40)[o] (524.5,16.50)[o] (525.5,17.60)[o] (526.5,15.80)[o] (527.5,17.20)[o] (528.5,16.30)[o] (529.5,17.70)[o]
(530.5,16.00)[o] (531.5,17.50)[o] (532.5,16.60)[o] (533.5,17.90)[o] (535.5,16.80)[o] (536.2,9.90)[o] (536.8,3.00)[o] (537.8,2.20)[g] (538.8,1.20)[g] (539.8,2.60)[g]
(540.8,0.80)[g] (541.8,2.40)[g] (542.8,1.60)[g] (543.8,3.00)[g] (544.8,1.80)[g] (545.8,2.70)[g] (546.8,1.40)[g] (547.8,2.50)[g] (548.8,1.90)[g] (549.8,3.20)[g]
(550.8,1.70)[g] (551.8,2.60)[g] (552.8,2.00)[g] (553.8,2.90)[g] (554.8,1.60)[g] (555.8,2.40)[g] (556.8,2.10)[o] (557.8,2.80)[o] (558.8,2.00)[o] (559.8,2.50)[o]
(560.5,3.60)[o] (561.0,12.90)[o] (561.5,15.80)[o] (562.5,14.30)[o] (563.5,15.60)[o] (564.5,14.00)[o] (565.5,16.00)[o] (566.5,14.60)[o] (567.5,15.40)[o] (568.5,14.20)[o]
(569.5,15.90)[o] (570.5,14.50)[o] (571.5,15.70)[o] (572.5,14.10)[o] (573.5,15.30)[o] (574.5,14.80)[o] (575.2,10.10)[o] (575.8,2.70)[o] (576.8,3.50)[g] (577.8,1.80)[g]
(578.8,2.60)[g] (579.8,1.20)[g] (580.8,2.20)[g] (581.8,0.90)[g] (582.8,2.00)[g] (583.8,1.40)[g] (584.8,2.40)[g] (585.8,1.00)[g] (586.8,1.90)[g] (587.8,1.30)[g]
(588.8,2.10)[o] (589.8,1.50)[o] (590.8,2.30)[o] (591.8,1.70)[o] (592.8,2.40)[o] (593.6,10.20)[o] (594.2,15.90)[o] (595.2,14.80)[o] (596.5,16.60)[o] (598.0,15.20)[o]
(599.5,16.90)[o] (601.0,15.40)[o] (602.5,16.50)[o] (604.0,15.00)[o] (605.5,16.80)[o] (607.0,15.60)[o] (608.5,16.20)[o] (610.0,15.10)[o] (611.5,16.70)[o] (613.0,15.50)[o]
(614.5,16.40)[o] (616.0,15.30)[o] (617.5,16.00)[o] (619.0,14.90)[o] (620.5,15.80)[o] (622.0,14.80)[o]
};
\end{axis}
\begin{axis}[inax, at={(464bp,47bp)}, width=197.7bp, height=81.7bp,
  xmin=-0.8, xmax=20.25, ymax=42,
  xtick={0,5,10,15,20}, xticklabels={0,5,10,15,20}, ytick={0,10,20,30,40}]
\addlegendimage{redpatch}\addlegendentry{total}
\addlegendimage{greenpatch}\addlegendentry{Beam on}
\addplot[const plot, fill=mred, draw=none, forget plot] coordinates {
(0.250,8) (0.725,12) (1.200,19) (1.675,40) (2.150,24) (2.625,15) (3.100,3) (3.575,1) (4.050,0) (4.525,0)
(5.000,1) (5.475,1) (5.950,0) (6.425,0) (6.900,0) (7.375,0) (7.850,2) (8.325,1) (8.800,0) (9.275,0)
(9.750,2) (10.225,1) (10.700,0) (11.175,1) (11.650,1) (12.125,0) (12.600,2) (13.075,3) (13.550,4) (14.025,7)
(14.500,9) (14.975,16) (15.450,23) (15.925,20) (16.400,28) (16.875,36) (17.350,40) (17.825,38) (18.300,23) (18.775,9) (19.250,0)} \closedcycle;
\addplot[const plot, fill=mgreen, draw=none, forget plot] coordinates {
(0.250,4) (0.725,10) (1.200,14) (1.675,29) (2.150,18) (2.625,8) (3.100,3) (3.575,0)} \closedcycle;
\end{axis}
% panel letters
\node[font=\bfseries\fontsize{12}{14}\selectfont, text=black] at (4.2bp,539.3bp) {a};
\node[font=\bfseries\fontsize{12}{14}\selectfont, text=black] at (355.3bp,539.3bp) {b};
\node[font=\bfseries\fontsize{12}{14}\selectfont, text=black] at (3.6bp,248.5bp) {c};
\node[font=\bfseries\fontsize{12}{14}\selectfont, text=black] at (355.5bp,248.5bp) {d};
\end{tikzpicture}
\end{document}
